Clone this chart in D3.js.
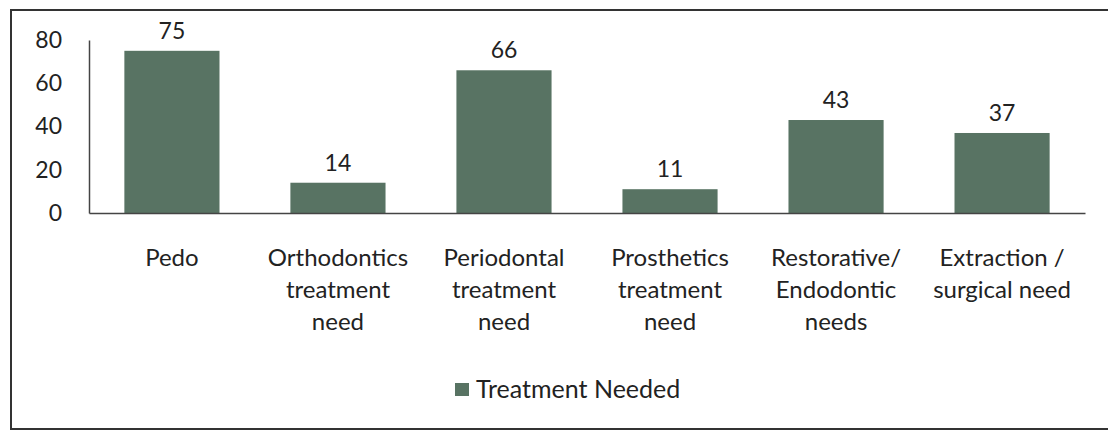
<!DOCTYPE html>
<html><head><meta charset="utf-8">
<script src="https://cdn.jsdelivr.net/npm/d3@7"></script>
<style>body{margin:0;background:#fff}svg{display:block}</style>
</head><body>
<svg id="chart" width="1108" height="432"></svg>
<script>
const categories = [
  ["Pedo"],
  ["Orthodontics", "treatment", "need"],
  ["Periodontal", "treatment", "need"],
  ["Prosthetics", "treatment", "need"],
  ["Restorative/", "Endodontic", "needs"],
  ["Extraction /", "surgical need"]
];
const values = [75, 14, 66, 11, 43, 37];
const yTicks = [0, 20, 40, 60, 80];
const seriesName = "Treatment Needed";

const svg = d3.select("#chart");
const font = "Lato, 'Open Sans', sans-serif";
const color = "#587363";
const textColor = "#222";

// frame
svg.append("path").attr("d", `M1108,10 L11,10 L11,429 L1108,429`)
  .attr("fill", "none").attr("stroke", "#333").attr("stroke-width", 2);

const mLeft = 89, mRight = 1085, mTop = 40, mBottom = 213;
const x = d3.scaleBand().domain(d3.range(categories.length)).range([mLeft, mRight]).paddingInner(0.427).paddingOuter(0.213);
const y = d3.scaleLinear().domain([0, 80]).range([mBottom, mTop]);

// y axis
const ya = svg.append("g").attr("transform", `translate(${mLeft},0)`)
  .call(d3.axisLeft(y).tickValues(yTicks).tickSize(0).tickPadding(27));
ya.select(".domain").attr("stroke", "#444").attr("stroke-width", 1.5);
ya.selectAll("text").attr("font-family", font).attr("font-size", 23).attr("fill", textColor);

// bars
svg.selectAll("rect.bar").data(values).enter().append("rect").attr("class", "bar")
  .attr("x", (d, i) => x(i)).attr("width", x.bandwidth())
  .attr("y", d => y(d)).attr("height", d => y(0) - y(d))
  .attr("fill", color);

// x axis
const xa = svg.append("g").attr("transform", `translate(0,${mBottom})`)
  .call(d3.axisBottom(x).tickSize(0).tickFormat(""));
xa.select(".domain").attr("stroke", "#444").attr("stroke-width", 1.5);

// category labels
const lab = svg.append("g");
categories.forEach((lines, i) => {
  const t = lab.append("text").attr("text-anchor", "middle")
    .attr("font-family", font).attr("font-size", 24).attr("fill", textColor);
  lines.forEach((ln, j) => {
    t.append("tspan").attr("x", x(i) + x.bandwidth() / 2).attr("y", 266 + j * 32).text(ln);
  });
});

// value labels
svg.selectAll("text.val").data(values).enter().append("text").attr("class", "val")
  .attr("x", (d, i) => x(i) + x.bandwidth() / 2).attr("y", d => y(d) - 12)
  .attr("text-anchor", "middle").attr("font-family", font).attr("font-size", 23).attr("fill", textColor)
  .text(d => d);

// legend
const lg = svg.append("g");
lg.append("rect").attr("x", 455).attr("y", 383).attr("width", 14).attr("height", 13).attr("fill", color);
lg.append("text").attr("x", 476).attr("y", 398).attr("font-family", font).attr("font-size", 25)
  .attr("fill", textColor).text(seriesName);
</script>
</body></html>
